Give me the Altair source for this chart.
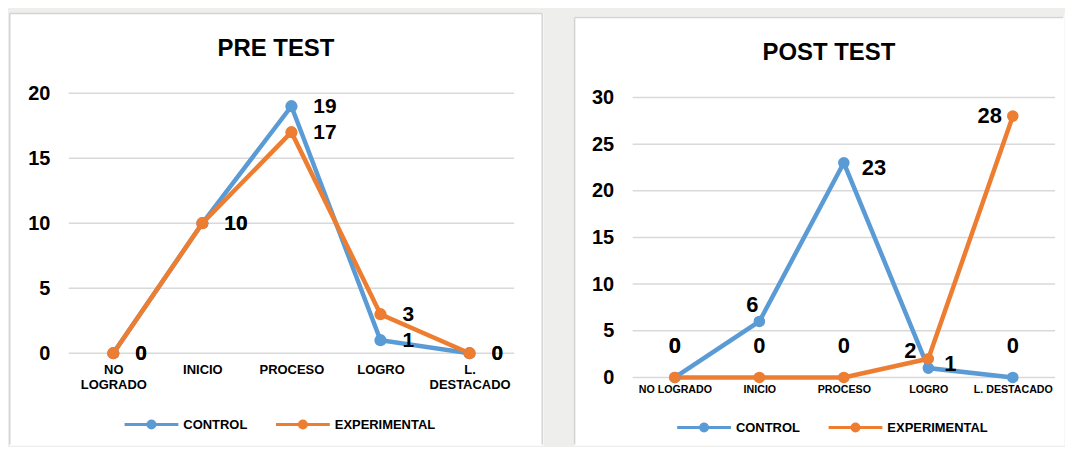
import altair as alt
import pandas as pd

# ---------------- data ----------------
categories = ["NO LOGRADO", "INICIO", "PROCESO", "LOGRO", "L. DESTACADO"]
series_names = ["CONTROL", "EXPERIMENTAL"]
panel_titles = ["PRE TEST", "POST TEST"]
pre_control = [0, 10, 19, 1, 0]
pre_experimental = [0, 10, 17, 3, 0]
post_control = [0, 6, 23, 1, 0]
post_experimental = [0, 0, 0, 2, 28]
pre_ticks = [0, 5, 10, 15, 20]
post_ticks = [0, 5, 10, 15, 20, 25, 30]
series_colors = ["#5B9BD5", "#ED7D31"]

# ---------------- styling ----------------
FONT = "Liberation Sans"
GRID = "#d9d9d9"
BORDER = "#d4d4d4"
PAGE_BG = "#eeeeec"
LEGEND_SYMBOL = ("M-1,0H9.8"
                 "M4.7,0A0.3,0.3,0,1,1,4.1,0A0.3,0.3,0,1,1,4.7,0"
                 "M5.1,0A0.7,0.7,0,1,1,3.7,0A0.7,0.7,0,1,1,5.1,0")

# label placements: name -> (align, dx, dy)
PLACE = {
    "right_pre": ("left", 22, 1),
    "above": ("center", 0, -32),
    "above_near": ("center", -7, -16),
    "right": ("left", 18, 5),
    "right_low": ("center", 22, -4),
    "left_up": ("center", -18, -8),
    "left": ("right", -11, 0),
}
PRE_PLACEMENT = {(s, c): "right_pre" for s in series_names for c in categories}
POST_PLACEMENT = {
    ("CONTROL", "NO LOGRADO"): "above",
    ("CONTROL", "INICIO"): "above_near",
    ("CONTROL", "PROCESO"): "right",
    ("CONTROL", "LOGRO"): "right_low",
    ("CONTROL", "L. DESTACADO"): "above",
    ("EXPERIMENTAL", "NO LOGRADO"): "above",
    ("EXPERIMENTAL", "INICIO"): "above",
    ("EXPERIMENTAL", "PROCESO"): "above",
    ("EXPERIMENTAL", "LOGRO"): "left_up",
    ("EXPERIMENTAL", "L. DESTACADO"): "left",
}


def long_table(control, experimental):
    rows = []
    for name, vals in zip(series_names, [control, experimental]):
        for i, (cat, v) in enumerate(zip(categories, vals)):
            rows.append({"series": name, "cat": cat, "value": v, "idx": i,
                         "key": name + "|" + cat})
    return pd.DataFrame(rows)


def panel(title, control, experimental, ticks, geo, placement, label_size,
          x_label_size, x_label_expr, x_label_pad, point_size, right_border, top_gap):
    W, H = geo["W"], geo["H"]
    x0, x1, yb, yt = geo["x0"], geo["x1"], geo["yb"], geo["yt"]
    df = long_table(control, experimental)
    xs = alt.Scale(type="point", domain=categories, range=[x0, x1], padding=0.5)
    ys = alt.Scale(domain=[ticks[0], ticks[-1]], range=[yb, yt], nice=False, zero=False)
    cs = alt.Scale(domain=series_names, range=series_colors)

    x_axis_kw = dict(title=None, domain=False, ticks=False, grid=False, labelAngle=0,
                     labelFont=FONT, labelFontSize=x_label_size, labelFontWeight="bold",
                     labelColor="black", labelPadding=x_label_pad, offset=yb - H,
                     zindex=1, labelOverlap=False, labelLineHeight=14.5)
    if x_label_expr:
        x_axis_kw["labelExpr"] = x_label_expr
    x_axis = alt.Axis(**x_axis_kw)
    y_axis = alt.Axis(values=ticks, title=None, domain=False, ticks=False, grid=False,
                      labelFont=FONT, labelFontSize=20, labelFontWeight="bold",
                      labelColor="black", labelPadding=19, offset=-x0, zindex=1,
                      labelOverlap=False)
    legend = alt.Legend(orient="none", legendX=geo["lx"], legendY=geo["ly"],
                        direction="horizontal", title=None, symbolType=LEGEND_SYMBOL,
                        symbolSize=100, symbolStrokeWidth=3, labelFont=FONT,
                        labelFontSize=13, labelFontWeight="bold", labelColor="black",
                        labelOffset=47.5, columnPadding=22, padding=0, zindex=1)

    X = alt.X("cat:N", scale=xs, axis=x_axis)
    Y = alt.Y("value:Q", scale=ys, axis=y_axis)

    one = pd.DataFrame({"o": [0]})
    layers = []
    if top_gap:
        layers.append(alt.Chart(one).mark_rect(color=PAGE_BG).encode(
            x=alt.value(0), x2=alt.value(W), y=alt.value(0), y2=alt.value(top_gap)))
    layers += [
        alt.Chart(one).mark_rule(color=BORDER, strokeWidth=1.5).encode(
            x=alt.value(0.75), y=alt.value(top_gap + 0.75), y2=alt.value(H - 0.75)),
        alt.Chart(one).mark_rule(color=BORDER, strokeWidth=1.5).encode(
            x=alt.value(0.75), x2=alt.value(W - 0.75), y=alt.value(top_gap + 0.75)),
    ]
    if right_border:
        layers.append(alt.Chart(one).mark_rule(color=BORDER, strokeWidth=1.5).encode(
            x=alt.value(W - 0.75), y=alt.value(top_gap + 0.75), y2=alt.value(H - 0.75)))

    # panel title
    layers.append(alt.Chart(pd.DataFrame({"t": [title]})).mark_text(
        font=FONT, fontSize=24, fontWeight="bold", color="black",
        align="center", baseline="alphabetic").encode(
        text="t:N", x=alt.value(geo["tx"]), y=alt.value(geo["ty"])))

    grid = alt.Chart(pd.DataFrame({"value": ticks})).mark_rule(
        color=GRID, strokeWidth=1.5).encode(y=Y, x=alt.value(x0), x2=alt.value(x1))
    base = alt.Chart(df)
    line = base.mark_line().encode(
        x=X, y=Y,
        stroke=alt.Stroke("series:N", scale=cs, legend=legend),
        order=alt.Order("idx:Q"),
        strokeWidth=alt.value(4.5),
    )
    pts = base.mark_circle(size=point_size, opacity=1).encode(
        x=X, y=Y, color=alt.Color("series:N", scale=cs, legend=None))
    layers += [grid, line, pts]

    groups = {}
    for k, p in placement.items():
        groups.setdefault(p, []).append(k[0] + "|" + k[1])
    for p, keys in groups.items():
        align, dx, dy = PLACE[p]
        layers.append(base.mark_text(font=FONT, fontSize=label_size, fontWeight="bold",
                                     color="black", align=align, baseline="middle",
                                     dx=dx, dy=dy).encode(
            x=X, y=Y, text=alt.Text("value:Q"),
        ).transform_filter(alt.FieldOneOfPredicate(field="key", oneOf=keys)))

    return alt.layer(*layers).properties(width=W, height=H)


left = panel(panel_titles[0], pre_control, pre_experimental, pre_ticks,
             dict(W=536, H=434, x0=60, x1=507, yb=341.7, yt=80.7, lx=114.5, ly=406.8,
                  tx=268, ty=43),
             PRE_PLACEMENT, 21, 13, "split(datum.label, ' ')", 10.6, 150, True, 0)
right = panel(panel_titles[1], post_control, post_experimental, post_ticks,
              dict(W=492, H=434, x0=59, x1=483, yb=366, yt=85, lx=102.2, ly=409.8,
                   tx=256, ty=47.3),
              POST_PLACEMENT, 22, 10.7, None, 7.4, 135, False, 4)

chart = alt.hconcat(left, right, spacing=29).resolve_scale(
    stroke="independent", color="independent", x="independent", y="independent"
).resolve_legend(stroke="independent", color="independent").properties(
    padding={"left": 0, "top": 3, "right": 0, "bottom": 0},
    background=PAGE_BG,
).configure_view(fill="white", stroke="transparent")

chart.save("out.html", embed_options={"renderer": "svg", "actions": False})
